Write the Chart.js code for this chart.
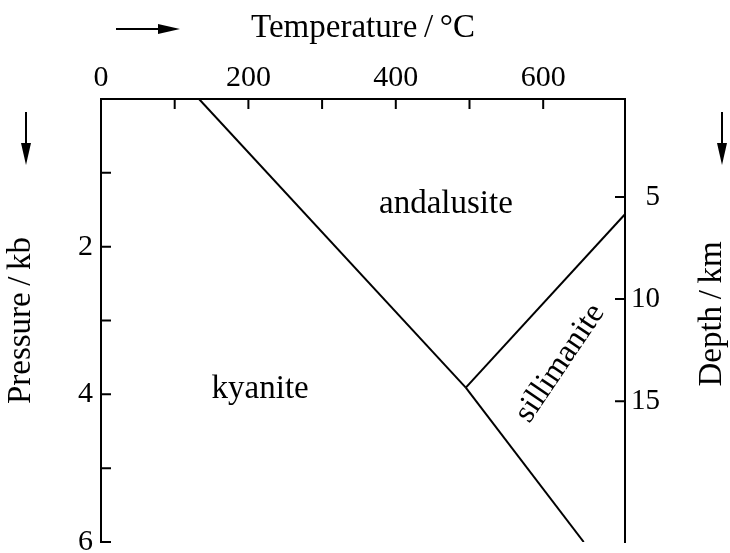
<!DOCTYPE html>
<html>
<head>
<meta charset="utf-8">
<script src="https://cdn.jsdelivr.net/npm/chart.js@4.4.0/dist/chart.umd.min.js"></script>
<style>
  html, body { margin: 0; padding: 0; background: #fff; }
  #wrap { width: 730px; height: 553px; position: relative; }
</style>
</head>
<body>
<div id="wrap"><canvas id="phaseChart"></canvas></div>
<script>
// Al2SiO5 phase boundaries, temperature (°C) against pressure (kb)
const kyAndT = [133, 495];
const kyAndP = [0, 3.91];
const andSilT = [495, 711];
const andSilP = [3.91, 1.56];
const kySilT = [495, 655];
const kySilP = [3.91, 6];

const tempTicks = [0, 100, 200, 300, 400, 500, 600];
const tempLabels = [0, 200, 400, 600];
const pressureTicks = [0, 1, 2, 3, 4, 5, 6];
const pressureLabels = [2, 4, 6];
const depthTicks = [5, 10, 15];

// stability fields, placed in temperature / pressure
const fieldNames = ['andalusite', 'kyanite', 'sillimanite'];
const fieldT = [468, 216, 623];
const fieldP = [1.42, 3.93, 3.58];

const SERIF = '"Liberation Serif", "Times New Roman", serif';

function toPoints(xs, ys) {
    return xs.map(function (x, i) { return { x: x, y: ys[i] }; });
}

function boundary(xs, ys) {
    return {
        data: toPoints(xs, ys),
        showLine: true,
        borderColor: '#000',
        borderWidth: 2,
        pointRadius: 0,
        fill: false,
        tension: 0,
        yAxisID: 'y'
    };
}

function arrow(ctx, x1, y1, x2, y2) {
    const ang = Math.atan2(y2 - y1, x2 - x1);
    const head = 22, half = 5;
    const bx = x2 - head * Math.cos(ang), by = y2 - head * Math.sin(ang);
    ctx.beginPath();
    ctx.moveTo(x1, y1);
    ctx.lineTo(bx, by);
    ctx.stroke();
    ctx.beginPath();
    ctx.moveTo(x2, y2);
    ctx.lineTo(bx + half * Math.sin(ang), by - half * Math.cos(ang));
    ctx.lineTo(bx - half * Math.sin(ang), by + half * Math.cos(ang));
    ctx.closePath();
    ctx.fill();
}

const decorations = {
    id: 'decorations',
    afterDraw(chart) {
        const ctx = chart.ctx;
        const area = chart.chartArea;
        const sx = chart.scales.x, sy = chart.scales.y, sd = chart.scales.y2;
        ctx.save();
        ctx.strokeStyle = '#000';
        ctx.fillStyle = '#000';
        ctx.lineWidth = 2;

        // tick marks point into the plot
        ctx.beginPath();
        sx.ticks.forEach(function (t) {
            if (t.value <= sx.min) return;
            const px = sx.getPixelForValue(t.value);
            ctx.moveTo(px, area.top);
            ctx.lineTo(px, area.top + 10);
        });
        sy.ticks.forEach(function (t) {
            if (t.value <= 0) return;
            const py = sy.getPixelForValue(t.value);
            ctx.moveTo(area.left, py);
            ctx.lineTo(area.left + 10, py);
        });
        sd.ticks.forEach(function (t) {
            const py = sd.getPixelForValue(t.value);
            ctx.moveTo(area.right, py);
            ctx.lineTo(area.right - 10, py);
        });
        ctx.stroke();

        // field names
        ctx.textAlign = 'center';
        ctx.textBaseline = 'middle';
        fieldNames.forEach(function (name, i) {
            const px = sx.getPixelForValue(fieldT[i]);
            const py = sy.getPixelForValue(fieldP[i]);
            ctx.save();
            ctx.translate(px, py);
            if (name === 'sillimanite') {
                ctx.rotate(-56 * Math.PI / 180);
                ctx.font = '32px ' + SERIF;
            } else {
                ctx.font = '33px ' + SERIF;
            }
            ctx.fillText(name, 0, 0);
            ctx.restore();
        });

        // depth title reads bottom to top
        ctx.save();
        ctx.translate(712, 314);
        ctx.rotate(-Math.PI / 2);
        ctx.font = '33px ' + SERIF;
        ctx.fillText('Depth\u2009/\u2009km', 0, 0);
        ctx.restore();

        // direction arrows
        arrow(ctx, 116, 29, 180, 29);
        arrow(ctx, 26, 112, 26, 165);
        arrow(ctx, 722, 112, 722, 165);
        ctx.restore();
    }
};

new Chart(document.getElementById('phaseChart'), {
    type: 'scatter',
    data: {
        datasets: [
            boundary(kyAndT, kyAndP),
            boundary(andSilT, andSilP),
            boundary(kySilT, kySilP)
        ]
    },
    options: {
        responsive: true,
        maintainAspectRatio: false,
        animation: false,
        events: [],
        layout: { autoPadding: false, padding: { top: 0, left: 0, right: 70, bottom: 11 } },
        plugins: { legend: { display: false }, tooltip: { enabled: false } },
        scales: {
            x: {
                type: 'linear',
                position: 'top',
                min: 0,
                max: 711,
                afterBuildTicks: function (s) { s.ticks = tempTicks.map(function (v) { return { value: v }; }); },
                afterFit: function (s) { s.height = 99; s.paddingLeft = 0; s.paddingRight = 0; },
                grid: { display: false, drawTicks: false },
                border: { display: true, color: '#000', width: 2 },
                ticks: {
                    autoSkip: false,
                    maxRotation: 0,
                    padding: 3,
                    color: '#000',
                    font: { family: SERIF, size: 30 },
                    callback: function (v) { return tempLabels.indexOf(v) >= 0 ? String(v) : ''; }
                },
                title: {
                    display: true,
                    text: 'Temperature\u2009/\u2009°C',
                    color: '#000',
                    font: { family: SERIF, size: 33 },
                    padding: { top: 9, bottom: 0 }
                }
            },
            y: {
                type: 'linear',
                position: 'left',
                reverse: true,
                min: 0,
                max: 6,
                afterBuildTicks: function (s) { s.ticks = pressureTicks.map(function (v) { return { value: v }; }); },
                afterFit: function (s) { s.width = 101; s.paddingTop = 0; s.paddingBottom = 0; },
                grid: { display: false, drawTicks: false },
                border: { display: true, color: '#000', width: 2 },
                ticks: {
                    autoSkip: false,
                    padding: 8,
                    color: '#000',
                    font: { family: SERIF, size: 30 },
                    callback: function (v) { return pressureLabels.indexOf(v) >= 0 ? String(v) : ''; }
                },
                title: {
                    display: true,
                    text: 'Pressure\u2009/\u2009kb',
                    color: '#000',
                    font: { family: SERIF, size: 33 },
                    padding: { top: 2, bottom: 0 }
                }
            },
            y2: {
                type: 'linear',
                position: 'right',
                display: true,
                reverse: true,
                min: 0.2,
                max: 21.9,
                afterBuildTicks: function (s) { s.ticks = depthTicks.map(function (v) { return { value: v }; }); },
                afterFit: function (s) { s.width = 35; s.paddingTop = 0; s.paddingBottom = 0; },
                grid: { display: false, drawTicks: false },
                border: { display: true, color: '#000', width: 2 },
                ticks: {
                    autoSkip: false,
                    crossAlign: 'far',
                    color: '#000',
                    font: { family: SERIF, size: 29 }
                }
            }
        }
    },
    plugins: [decorations]
});
</script>
</body>
</html>
